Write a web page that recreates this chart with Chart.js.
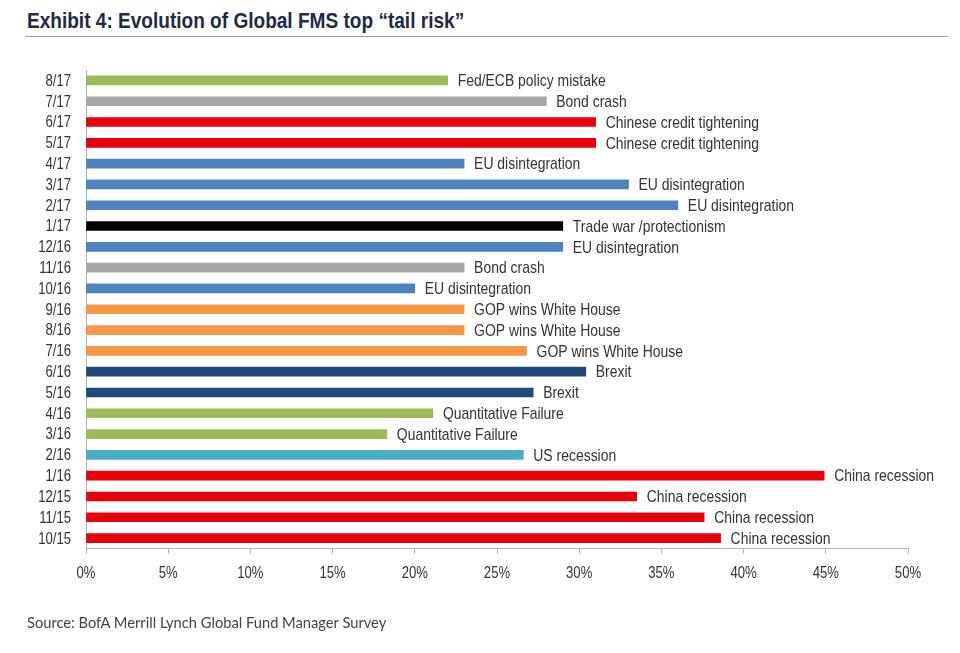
<!DOCTYPE html>
<html>
<head>
<meta charset="utf-8">
<script src="https://cdn.jsdelivr.net/npm/chart.js@4.4.0/dist/chart.umd.min.js"></script>
<style>
  html, body { margin: 0; padding: 0; background: #fff; }
  body { width: 960px; height: 653px; position: relative; overflow: hidden; }
  #title {
    position: absolute; left: 27px; top: 8px;
    font-family: "Liberation Sans", sans-serif;
    font-weight: bold; font-size: 22px; color: #1d2b47; white-space: nowrap;
    transform: scaleX(0.866); transform-origin: left top;
  }
  #rule { position: absolute; left: 25px; top: 36px; width: 923px; height: 1px; background: #8ea2b8; }
  #source {
    position: absolute; left: 27px; top: 613px;
    font-family: Lato, "Open Sans", sans-serif; font-size: 14.7px; color: #444; white-space: nowrap;
  }
  #wrap { position: absolute; left: 0; top: 0; width: 960px; height: 653px; }
</style>
</head>
<body>
<div id="title">Exhibit 4: Evolution of Global FMS top “tail risk”</div>
<div id="rule"></div>
<div id="wrap"><canvas id="chart"></canvas></div>
<div id="source">Source: BofA Merrill Lynch Global Fund Manager Survey</div>
<script>
// survey months, newest first (top of chart)
const months = ['8/17', '7/17', '6/17', '5/17', '4/17', '3/17', '2/17', '1/17', '12/16', '11/16',
  '10/16', '9/16', '8/16', '7/16', '6/16', '5/16', '4/16', '3/16', '2/16', '1/16', '12/15', '11/15', '10/15'];

// top tail risk named each month
const risks = ['Fed/ECB policy mistake', 'Bond crash', 'Chinese credit tightening', 'Chinese credit tightening',
  'EU disintegration', 'EU disintegration', 'EU disintegration', 'Trade war /protectionism', 'EU disintegration',
  'Bond crash', 'EU disintegration', 'GOP wins White House', 'GOP wins White House', 'GOP wins White House',
  'Brexit', 'Brexit', 'Quantitative Failure', 'Quantitative Failure', 'US recession', 'China recession',
  'China recession', 'China recession', 'China recession'];

// % of respondents
const shares = [22.0, 28.0, 31.0, 31.0, 23.0, 33.0, 36.0, 29.0, 29.0, 23.0, 20.0, 23.0, 23.0, 26.8,
  30.4, 27.2, 21.1, 18.3, 26.6, 44.9, 33.5, 37.6, 38.6];

const riskColors = {
  'Fed/ECB policy mistake': '#9bbb59',
  'Bond crash': '#a6a6a6',
  'Chinese credit tightening': '#e8000c',
  'EU disintegration': '#4f81bd',
  'Trade war /protectionism': '#000000',
  'GOP wins White House': '#f79646',
  'Brexit': '#1f497d',
  'Quantitative Failure': '#9bbb59',
  'US recession': '#4bacc6',
  'China recession': '#e8000c'
};

const xTicks = [0, 5, 10, 15, 20, 25, 30, 35, 40, 45, 50];

// no narrow face installed, so squeeze Liberation Sans horizontally
const SQUEEZE = 0.82;
function narrowText(ctx, text, x, y, size, align) {
  ctx.save();
  ctx.font = size + 'px "Liberation Sans", Arial, sans-serif';
  ctx.textAlign = align;
  ctx.textBaseline = 'middle';
  ctx.translate(x, y);
  ctx.scale(SQUEEZE, 1);
  ctx.fillText(text, 0, 0);
  ctx.restore();
}

const narrowLabels = {
  id: 'narrowLabels',
  afterDraw(chart) {
    const ctx = chart.ctx;
    const xs = chart.scales.x, ys = chart.scales.y;
    ctx.save();
    ctx.fillStyle = '#333';
    // category labels
    ys.ticks.forEach((t, i) => {
      narrowText(ctx, months[t.value], ys.right - 15, ys.getPixelForTick(i) + 1, 16, 'right');
    });
    // percent labels
    xs.ticks.forEach((t, i) => {
      narrowText(ctx, t.value + '%', xs.getPixelForTick(i), xs.top + 25, 16, 'center');
    });
    // risk name after each bar
    chart.getDatasetMeta(0).data.forEach((bar, i) => {
      narrowText(ctx, risks[i], bar.x + 10, bar.y + 1, 17, 'left');
    });
    ctx.restore();
  }
};

new Chart(document.getElementById('chart'), {
  type: 'bar',
  data: {
    labels: months,
    datasets: [{
      data: shares,
      backgroundColor: risks.map(r => riskColors[r]),
      barThickness: 9,
      borderWidth: 0
    }]
  },
  options: {
    indexAxis: 'y',
    responsive: true,
    maintainAspectRatio: false,
    animation: false,
    layout: { padding: { top: 70, right: 52, left: 0, bottom: 0 } },
    plugins: { legend: { display: false }, tooltip: { enabled: false } },
    scales: {
      x: {
        min: 0, max: 50,
        afterBuildTicks: axis => { axis.ticks = xTicks.map(v => ({ value: v })); },
        afterFit: axis => { axis.height = 653 - 548.5; },
        grid: { drawOnChartArea: false, drawTicks: true, tickLength: 5, tickColor: '#a9b4bf' },
        border: { display: true, color: '#a9b4bf', width: 1 },
        ticks: { display: false }
      },
      y: {
        afterFit: axis => { axis.width = 86; },
        grid: { drawOnChartArea: false, drawTicks: false },
        border: { display: true, color: '#a9b4bf', width: 1 },
        ticks: { display: false, autoSkip: false }
      }
    }
  },
  plugins: [narrowLabels]
});
</script>
</body>
</html>
